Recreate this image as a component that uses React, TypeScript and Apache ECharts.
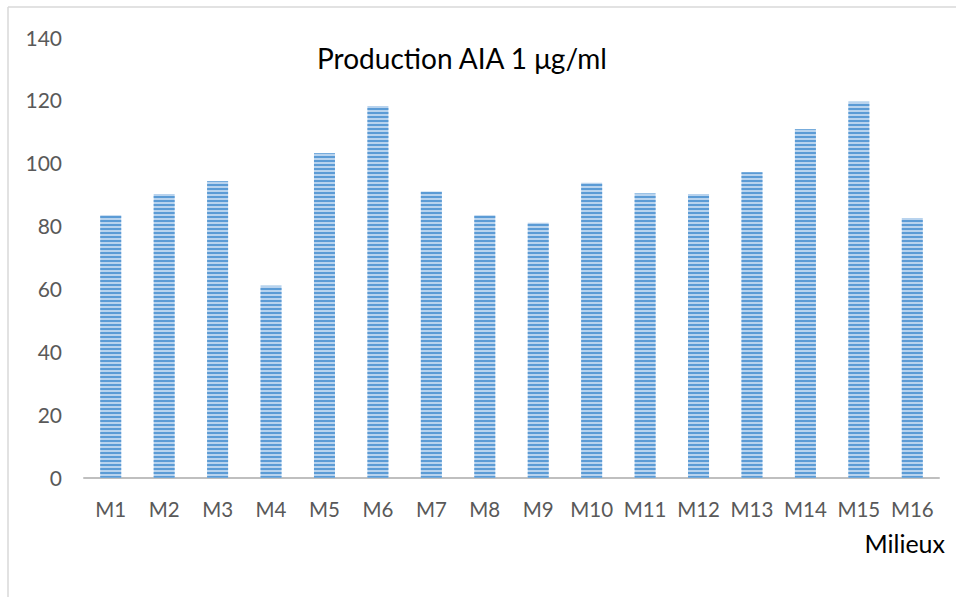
import React, { useEffect, useRef } from "react";
import * as echarts from "echarts";

const categories = ["M1", "M2", "M3", "M4", "M5", "M6", "M7", "M8", "M9", "M10", "M11", "M12", "M13", "M14", "M15", "M16"];
const production = [83.4, 90.1, 94.2, 61.0, 103.1, 118.1, 90.9, 83.4, 81.0, 93.7, 90.3, 90.1, 97.0, 110.7, 119.4, 82.5];
const yTicks = { min: 0, max: 140, interval: 20 };

export default function App() {
  const ref = useRef<HTMLDivElement>(null);

  useEffect(() => {
    if (!ref.current) return;
    const chart = echarts.init(ref.current, undefined, { renderer: "svg" });
    chart.setOption({
      animation: false,
      backgroundColor: "#ffffff",
      title: {
        text: "Production AIA 1 μg/ml",
        left: 457,
        top: 39,
        textAlign: "center",
        textStyle: { fontFamily: "Lato", fontSize: 28, fontWeight: "normal", color: "#000000" },
      },
      graphic: [
        { type: "line", shape: { x1: 8, y1: 7, x2: 956, y2: 7 }, style: { stroke: "#d9d9d9", lineWidth: 1.5 } },
        { type: "line", shape: { x1: 8, y1: 7, x2: 8, y2: 597 }, style: { stroke: "#d9d9d9", lineWidth: 1.5 } },
      ],
      grid: { left: 84, right: 17, top: 37, bottom: 119.3 },
      xAxis: {
        type: "category",
        data: categories,
        name: "Milieux",
        nameLocation: "end",
        nameGap: 6,
        nameTextStyle: {
          fontFamily: "Lato",
          fontSize: 25,
          color: "#000000",
          align: "right",
          verticalAlign: "top",
          padding: [53, 0, 0, 0],
        },
        axisLine: { lineStyle: { color: "#bfbfbf", width: 2 } },
        axisTick: { show: false },
        axisLabel: { interval: 0, fontFamily: "Lato", fontSize: 20.5, color: "#595959", margin: 21 },
      },
      yAxis: {
        type: "value",
        min: yTicks.min,
        max: yTicks.max,
        interval: yTicks.interval,
        axisLine: { show: false },
        axisTick: { show: false },
        splitLine: { show: false },
        axisLabel: { fontFamily: "Lato", fontSize: 21, color: "#595959", margin: 22 },
      },
      series: [
        {
          type: "bar",
          data: production,
          barWidth: 21,
          itemStyle: {
            color: "#b8d3ee",
            decal: {
              symbol: "rect",
              symbolSize: 1,
              dashArrayX: [10, 0],
              dashArrayY: [2, 1.5],
              rotation: 0,
              color: "#5b9bd5",
            },
          },
        },
      ],
    });
    return () => chart.dispose();
  }, []);

  return (
    <div
      ref={ref}
      style={{ position: "absolute", left: 0, top: 0, width: 956, height: 597 }}
    />
  );
}
